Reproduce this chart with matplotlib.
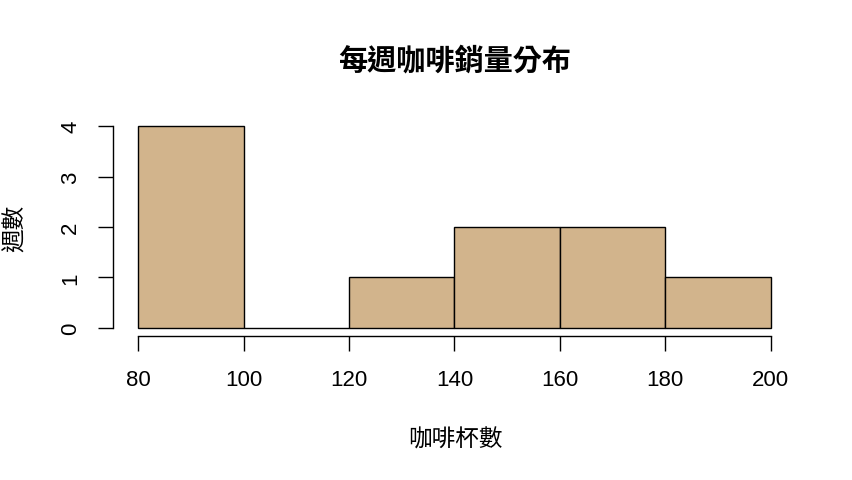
import matplotlib
matplotlib.use("Agg")
import matplotlib.pyplot as plt

plt.rcParams['font.family'] = ['Liberation Sans', 'Noto Sans CJK TC', 'DejaVu Sans']

breaks = [80, 100, 120, 140, 160, 180, 200]
counts = [4, 0, 1, 2, 2, 1]
x_ticks = [80, 100, 120, 140, 160, 180, 200]
y_ticks = [0, 1, 2, 3, 4]
title = "每週咖啡銷量分布"
xlabel = "咖啡杯數"
ylabel = "週數"

W, H = 852, 481
fig = plt.figure(figsize=(W / 100, H / 100), dpi=100)
left, right, top, bottom = 113, 796, 119, 337
ax = fig.add_axes([left / W, 1 - bottom / H, (right - left) / W, (bottom - top) / H])

lefts = breaks[:-1]
widths = [b - a for a, b in zip(breaks[:-1], breaks[1:])]
ax.bar(lefts, counts, width=widths, align='edge', color='#D2B48C',
       edgecolor='black', linewidth=1.0)

span = breaks[-1] - breaks[0]
ax.set_xlim(breaks[0] - 0.04 * span, breaks[-1] + 0.04 * span)
ymax = max(counts)
ax.set_ylim(-0.04 * ymax, ymax * 1.04)

for s in ['top', 'right']:
    ax.spines[s].set_visible(False)
ax.spines['left'].set_bounds(y_ticks[0], y_ticks[-1])
ax.spines['bottom'].set_bounds(x_ticks[0], x_ticks[-1])
ax.spines['left'].set_linewidth(1.0)
ax.spines['bottom'].set_linewidth(1.0)

ax.set_xticks(x_ticks)
ax.set_xticklabels([str(v) for v in x_ticks])
ax.set_yticks(y_ticks)
ax.set_yticklabels([str(v) for v in y_ticks], rotation=90, va='center')
ax.tick_params(axis='both', length=10.8, width=1.0, labelsize=16, direction='out')
ax.tick_params(axis='x', pad=13)
ax.tick_params(axis='y', pad=12)

fig.text(455 / W, 1 - 60 / H, title, ha='center', va='center', fontsize=21,
         fontweight='bold', family=['Noto Sans CJK TC', 'DejaVu Sans'])
fig.text(455 / W, 1 - 440 / H, xlabel, ha='center', va='center', fontsize=17,
         family=['Noto Sans CJK TC', 'DejaVu Sans'])
fig.text(15 / W, 1 - 228 / H, ylabel, ha='center', va='center', fontsize=17,
         rotation=90, family=['Noto Sans CJK TC', 'DejaVu Sans'])

fig.savefig("out.png", dpi=100, facecolor='white')
